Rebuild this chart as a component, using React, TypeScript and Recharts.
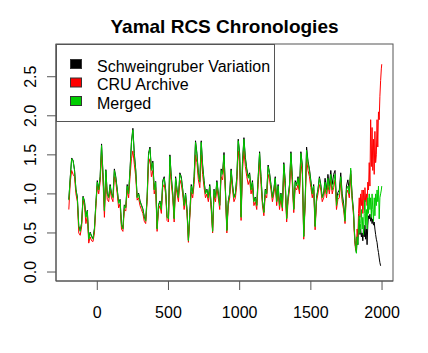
import React from "react"
import { LineChart, Line, XAxis, YAxis, Legend } from "recharts"

// decades -200..1800, then 5-yr steps 1805..1995, plus 1998
const years = [
  ...Array.from({ length: 201 }, (_, i) => -200 + i * 10),
  ...Array.from({ length: 39 }, (_, i) => 1805 + i * 5),
  1998,
]

const mergedEarly = [
  0.92, 1.2, 1.45, 1.42, 1.3, 1.05, 0.95, 0.58, 0.52, 0.62,
  0.96, 0.9, 0.7, 0.78, 0.42, 0.5, 0.45, 0.42, 0.55, 0.87,
  1.15, 1.05, 1.2, 1.62, 1.25, 0.78, 1.3, 1.0, 0.95, 1.1,
  1.0, 0.95, 1.3, 1.2, 1.05, 0.88, 0.92, 0.6, 0.55, 0.85,
  0.82, 1.1, 1.0, 1.3, 1.65, 1.82, 1.5, 1.3, 0.95, 1.0,
  0.9, 0.85, 0.8, 0.7, 0.65, 0.95, 1.5, 1.58, 1.3, 1.4,
  1.05, 1.15, 0.55, 0.85, 0.9, 0.8, 1.15, 1.2, 1.05, 0.7,
  0.68, 1.48, 1.2, 1.0, 0.68, 1.2, 1.05, 0.95, 1.25, 1.2,
  1.05, 0.85, 1.0, 0.8, 0.4, 0.75, 1.1, 1.0, 1.2, 1.66,
  1.5, 1.25, 1.15, 1.66, 1.35, 1.15, 1.0, 1.05, 0.95, 1.1,
  0.85, 0.52, 1.05, 0.95, 1.15, 1.0, 0.85, 1.3, 1.25, 1.5,
  1.05, 0.53, 0.9, 1.0, 1.3, 1.1, 0.95, 1.0, 1.2, 1.68,
  1.5, 0.7, 1.4, 1.7, 1.45, 1.3, 1.2, 1.25, 1.05, 1.15,
  0.9, 0.95, 0.85, 1.2, 1.52, 1.2, 0.9, 0.76, 1.05, 1.0,
  1.35, 1.25, 1.1, 0.95, 1.05, 1.2, 0.9, 1.1, 0.85, 1.0,
  0.82, 1.38, 1.15, 0.68, 0.95, 1.1, 1.52, 1.2, 0.8, 1.15,
  1.1, 1.2, 1.05, 1.52, 1.35, 0.45, 0.9, 1.56, 1.4, 1.3,
  1.15, 1.0, 1.1, 0.58, 0.95, 1.05, 1.2, 1.1, 0.95, 1.0,
  1.15, 1.0, 1.2, 1.05, 1.25, 1.05, 1.15, 1.25, 0.85, 0.98,
  1.0, 1.22, 0.95, 0.85, 0.65, 1.05, 1.1, 1.0, 1.33, 0.95,
  0.75,
]
const mergedLate = [
  0.55, 0.4, 0.3, 0.24, 0.45, 0.35, 0.6, 0.72, 0.5, 0.62,
  0.8, 0.55, 0.7, 0.48, 0.75, 0.92, 0.6, 0.8, 0.55, 0.95,
  0.75, 1.0, 0.8, 0.95, 0.7, 1.0, 0.8, 0.65, 0.95, 0.72,
  1.0, 0.85, 1.05, 0.9, 1.1, 0.68, 0.95, 1.0, 1.05, 1.1,
]

const cruEarly = [
  0.8, 1.15, 1.3, 1.25, 1.22, 1.0, 0.9, 0.5, 0.47, 0.58,
  0.92, 0.85, 0.62, 0.72, 0.37, 0.45, 0.4, 0.39, 0.5, 0.83,
  1.1, 1.0, 1.15, 1.5, 1.18, 0.7, 1.22, 0.93, 0.9, 1.05,
  0.95, 0.9, 1.22, 1.15, 1.0, 0.82, 0.87, 0.55, 0.52, 0.8,
  0.78, 1.05, 0.95, 1.22, 1.45, 1.55, 1.38, 1.22, 0.92, 0.95,
  0.85, 0.8, 0.75, 0.65, 0.62, 0.9, 1.38, 1.45, 1.22, 1.3,
  1.0, 1.08, 0.52, 0.8, 0.85, 0.75, 1.08, 1.12, 1.0, 0.66,
  0.64, 1.35, 1.12, 0.95, 0.64, 1.12, 1.0, 0.9, 1.18, 1.12,
  1.0, 0.8, 0.95, 0.75, 0.38, 0.7, 1.02, 0.95, 1.12, 1.5,
  1.4, 1.18, 1.08, 1.5, 1.25, 1.08, 0.95, 1.0, 0.9, 1.04,
  0.8, 0.5, 0.98, 0.9, 1.08, 0.95, 0.8, 1.22, 1.18, 1.38,
  1.0, 0.5, 0.85, 0.95, 1.22, 1.05, 0.9, 0.95, 1.12, 1.55,
  1.4, 0.66, 1.3, 1.55, 1.35, 1.22, 1.12, 1.18, 1.0, 1.08,
  0.85, 0.9, 0.8, 1.12, 1.4, 1.12, 0.85, 0.72, 0.98, 0.95,
  1.25, 1.18, 1.05, 0.9, 1.0, 1.12, 0.85, 1.05, 0.8, 0.95,
  0.78, 1.28, 1.08, 0.64, 0.9, 1.05, 1.4, 1.12, 0.76, 1.08,
  1.05, 1.12, 1.0, 1.4, 1.25, 0.42, 0.85, 1.45, 1.3, 1.22,
  1.08, 0.95, 1.05, 0.54, 0.9, 1.0, 1.12, 1.05, 0.9, 0.95,
  1.08, 0.95, 1.12, 1.0, 1.18, 1.0, 1.08, 1.18, 0.8, 0.93,
  0.95, 1.15, 0.9, 0.8, 0.62, 1.0, 1.05, 0.95, 1.25, 0.92,
  0.72,
]
const cruLate = [
  0.5, 0.35, 0.28, 0.3, 0.55, 0.45, 0.75, 0.95, 0.7, 1.0,
  0.85, 1.05, 0.75, 1.05, 0.8, 1.08, 0.9, 1.0, 0.85, 1.15,
  1.05, 1.4, 1.1, 1.95, 1.35, 1.85, 1.3, 1.7, 1.25, 1.8,
  1.4, 1.5, 1.95, 1.6, 2.05, 1.95, 2.25, 2.45, 2.6, 2.66,
]

const schwEarly = [
  0.93, 1.21, 1.46, 1.43, 1.31, 1.06, 0.96, 0.59, 0.53, 0.63,
  0.97, 0.91, 0.71, 0.79, 0.43, 0.51, 0.46, 0.43, 0.56, 0.88,
  1.17, 1.06, 1.22, 1.64, 1.27, 0.79, 1.31, 1.01, 0.96, 1.12,
  1.01, 0.96, 1.32, 1.22, 1.06, 0.89, 0.93, 0.61, 0.56, 0.86,
  0.83, 1.12, 1.01, 1.32, 1.67, 1.84, 1.52, 1.31, 0.96, 1.01,
  0.91, 0.86, 0.81, 0.71, 0.66, 0.96, 1.52, 1.6, 1.32, 1.42,
  1.06, 1.16, 0.56, 0.86, 0.91, 0.81, 1.17, 1.22, 1.06, 0.71,
  0.69, 1.5, 1.22, 1.01, 0.69, 1.22, 1.06, 0.96, 1.27, 1.22,
  1.06, 0.86, 1.01, 0.81, 0.41, 0.76, 1.12, 1.01, 1.22, 1.68,
  1.52, 1.27, 1.17, 1.68, 1.37, 1.17, 1.01, 1.06, 0.96, 1.12,
  0.86, 0.53, 1.06, 0.96, 1.17, 1.01, 0.86, 1.32, 1.27, 1.53,
  1.06, 0.54, 0.91, 1.01, 1.32, 1.12, 0.96, 1.01, 1.22, 1.7,
  1.52, 0.71, 1.42, 1.72, 1.47, 1.32, 1.22, 1.27, 1.06, 1.17,
  0.91, 0.96, 0.86, 1.22, 1.54, 1.22, 0.91, 0.77, 1.06, 1.01,
  1.37, 1.27, 1.12, 0.96, 1.06, 1.22, 0.91, 1.12, 0.86, 1.01,
  0.83, 1.4, 1.17, 0.69, 0.96, 1.12, 1.54, 1.22, 0.81, 1.17,
  1.12, 1.22, 1.06, 1.54, 1.37, 0.46, 0.91, 1.6, 1.42, 1.32,
  1.17, 1.01, 1.12, 0.59, 0.96, 1.06, 1.22, 1.12, 0.96, 1.01,
  1.2, 1.05, 1.25, 1.1, 1.3, 1.12, 1.25, 1.3, 0.9, 1.02,
  1.05, 1.27, 1.0, 0.88, 0.68, 1.1, 1.18, 1.05, 1.3, 0.98,
  0.78,
]
const schwLate = [
  0.55, 0.4, 0.3, 0.25, 0.45, 0.35, 0.58, 0.68, 0.48, 0.55,
  0.45, 0.5, 0.4, 0.55, 0.45, 0.6, 0.42, 0.55, 0.35, 0.6,
  0.72, 0.68, 0.74, 0.65, 0.7, 0.62, 0.68, 0.6, 0.64, 0.55,
  0.48, 0.42, 0.38, 0.3, 0.25, 0.18, 0.12, 0.08, null, null,
]

const merged = [...mergedEarly, ...mergedLate]
const cru = [...cruEarly, ...cruLate]
const schw = [...schwEarly, ...schwLate]

const data = years.map((year, i) => ({
  year,
  schw: schw[i],
  cru: cru[i],
  merged: merged[i],
}))

const xTicks = [0, 500, 1000, 1500, 2000]
const yTicks = [0, 0.5, 1, 1.5, 2, 2.5]

const series = [
  { key: "schw", label: "Schweingruber Variation", color: "#000000" },
  { key: "cru", label: "CRU Archive", color: "#ff0000" },
  { key: "merged", label: "Merged", color: "#00cd00" },
]

const FONT = "'Liberation Sans', Arial, sans-serif"
const FRAME = "#555"
const X_DOMAIN = [-290, 2077]
const Y_DOMAIN = [-0.115, 2.919]

// plot area = chart size minus margins and axis sizes
const W = 428
const H = 353
const M = { top: 44, right: 35, bottom: 0, left: 0 }
const Y_AXIS_W = 56
const X_AXIS_H = 72

const YTick = ({ x, y, payload }: any) => (
  <text
    x={x}
    y={y}
    transform={`rotate(-90 ${x} ${y})`}
    textAnchor="middle"
    fontSize={16}
    fontFamily={FONT}
    fill="#000"
  >
    {Number(payload.value).toFixed(1)}
  </text>
)

const LegendBox = () => (
  <svg width={219} height={78} style={{ display: "block" }}>
    <rect x={0.5} y={0.5} width={218} height={77} fill="#fff" stroke={FRAME} />
    {series.map((s, i) => (
      <g key={s.key}>
        <rect x={14.5} y={15.5 + i * 18.5} width={11} height={9} fill={s.color} stroke="#333" />
        <text x={41} y={27.5 + i * 18.5} fontSize={16} fontFamily={FONT} fill="#000">
          {s.label}
        </text>
      </g>
    ))}
  </svg>
)

export default function App() {
  const plotX = M.left + Y_AXIS_W
  const plotY = M.top
  const plotW = W - M.right - plotX
  const plotH = H - M.bottom - X_AXIS_H - plotY
  return (
    <div style={{ position: "absolute", left: 0, top: 0, width: W, height: H, background: "#fff" }}>
      <LineChart width={W} height={H} data={data} margin={M}>
        <text
          x={plotX + plotW / 2}
          y={33}
          textAnchor="middle"
          fontSize={19}
          fontWeight="bold"
          fontFamily={FONT}
          fill="#000"
        >
          Yamal RCS Chronologies
        </text>
        <rect x={plotX} y={plotY} width={plotW} height={plotH} fill="none" stroke={FRAME} />
        <XAxis
          dataKey="year"
          type="number"
          domain={X_DOMAIN}
          ticks={xTicks}
          allowDataOverflow
          height={X_AXIS_H}
          stroke={FRAME}
          tickSize={9}
          tickMargin={17}
          tick={{ fontSize: 16, fontFamily: FONT, fill: "#000" }}
        />
        <YAxis
          type="number"
          domain={Y_DOMAIN}
          ticks={yTicks}
          allowDataOverflow
          width={Y_AXIS_W}
          stroke={FRAME}
          tickSize={9}
          tickMargin={11}
          tick={<YTick />}
        />
        <Legend
          layout="horizontal"
          verticalAlign="middle"
          align="center"
          content={() => <LegendBox />}
          wrapperStyle={{ left: plotX, top: plotY, width: 219, height: 78 }}
        />
        {series.map((s) => (
          <Line
            key={s.key}
            dataKey={s.key}
            name={s.label}
            type="linear"
            stroke={s.color}
            strokeWidth={1}
            dot={false}
            activeDot={false}
            isAnimationActive={false}
          />
        ))}
      </LineChart>
    </div>
  )
}
